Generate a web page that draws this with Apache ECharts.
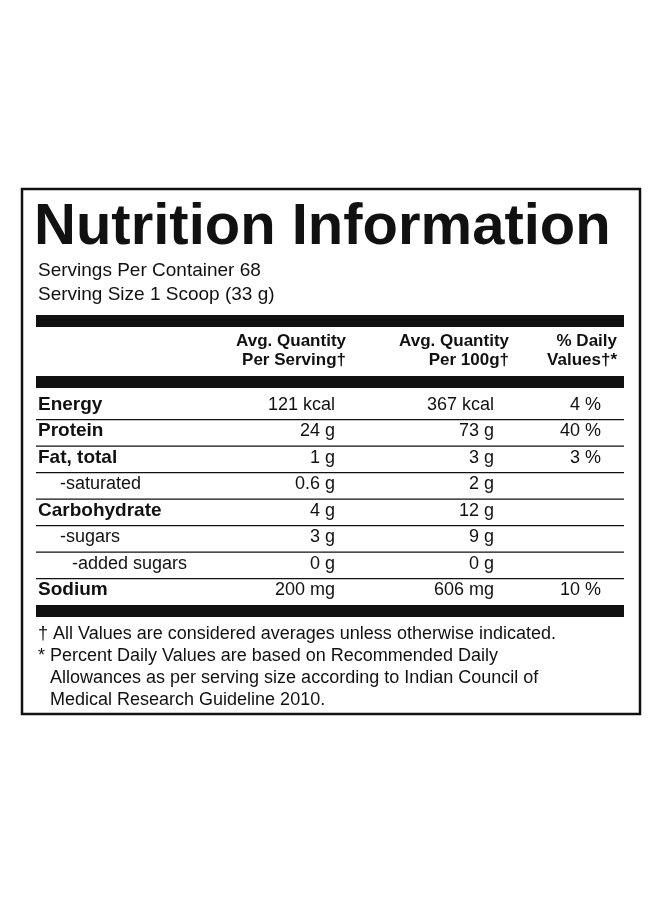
<!DOCTYPE html>
<html><head><meta charset="utf-8">
<script src="https://cdn.jsdelivr.net/npm/echarts@6/dist/echarts.min.js"></script>
<style>html,body{margin:0;padding:0;background:#fff}#c{width:660px;height:900px}</style>
</head><body><div id="c"></div>
<script>
const title = "Nutrition Information";
const subtitles = ["Servings Per Container 68", "Serving Size 1 Scoop (33 g)"];
const headers1 = ["Avg. Quantity", "Avg. Quantity", "% Daily"];
const headers2 = ["Per Serving†", "Per 100g†", "Values†*"];
const nutrients = ["Energy", "Protein", "Fat, total", "-saturated", "Carbohydrate", "-sugars", "-added sugars", "Sodium"];
const levels = [0, 0, 0, 1, 0, 1, 2, 0];
const perServing = ["121 kcal", "24 g", "1 g", "0.6 g", "4 g", "3 g", "0 g", "200 mg"];
const per100g = ["367 kcal", "73 g", "3 g", "2 g", "12 g", "9 g", "0 g", "606 mg"];
const dailyValues = ["4 %", "40 %", "3 %", "", "", "", "", "10 %"];
const footnotes = ["† All Values are considered averages unless otherwise indicated.",
  "* Percent Daily Values are based on Recommended Daily",
  "  Allowances as per serving size according to Indian Council of",
  "  Medical Research Guideline 2010."];

const F = "Liberation Sans, Arial, sans-serif";
const g = [];
const txt = (x, y, s, size, weight, align) => g.push({type:'text', x, y,
  style:{text:s, fill:'#111', font:(weight||'normal')+' '+size+'px '+F, textAlign:align||'left', textVerticalAlign:'bottom'}});
const rect = (x, y, w, h, fill) => g.push({type:'rect', shape:{x, y, width:w, height:h}, style:{fill}});

g.push({type:'rect', shape:{x:22, y:189, width:618, height:525}, style:{fill:'none', stroke:'#111', lineWidth:2.5}});
g.push({type:'text', x:34, y:257, style:{text:title, fill:'#111', font:'900 58px '+F, textVerticalAlign:'bottom'}});
txt(38, 280, subtitles[0], 19);
txt(38, 304, subtitles[1], 19);
rect(36, 315, 588, 12, '#111');
const hx = [346, 509, 617];
hx.forEach((x, i) => { txt(x, 350, headers1[i], 17, 'bold', 'right'); txt(x, 369, headers2[i], 17, 'bold', 'right'); });
rect(36, 376, 588, 12, '#111');
const vx = [335, 494, 601];
nutrients.forEach((n, i) => {
  const y = 414 + i * 26.5;
  const lv = levels[i];
  txt([38, 60, 72][lv], y, n, lv ? 18 : 19, lv ? 'normal' : 'bold');
  txt(vx[0], y, perServing[i], 18, 'normal', 'right');
  txt(vx[1], y, per100g[i], 18, 'normal', 'right');
  if (dailyValues[i]) txt(vx[2], y, dailyValues[i], 18, 'normal', 'right');
  if (i < nutrients.length - 1) rect(36, y + 5, 588, 1.3, '#111');
});
rect(36, 605, 588, 12, '#111');
footnotes.forEach((s, i) => txt(i > 1 ? 40 : 38, 643 + i * 22, s, 18));

const chart = echarts.init(document.getElementById('c'), null, {renderer:'canvas'});
chart.setOption({animation:false, graphic:g});
</script></body></html>
